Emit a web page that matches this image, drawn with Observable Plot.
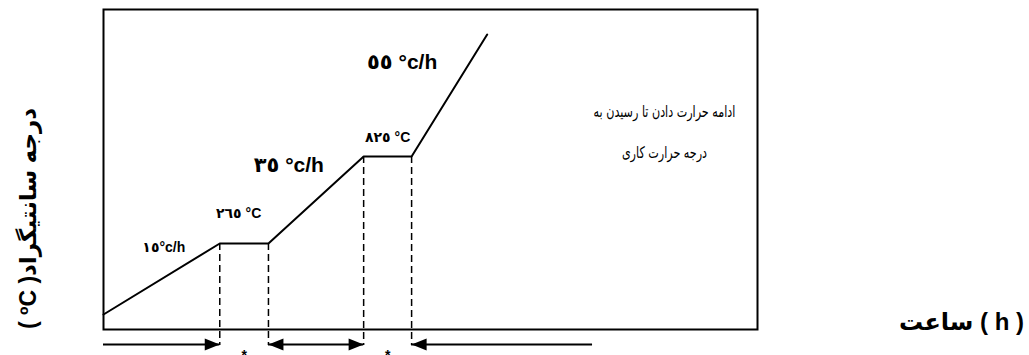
<!DOCTYPE html>
<html><head><meta charset="utf-8">
<script src="https://cdn.jsdelivr.net/npm/d3@7"></script>
<script src="https://cdn.jsdelivr.net/npm/@observablehq/plot@0.6"></script>
<style>html,body{margin:0;padding:0;background:#fff} svg{display:block}</style>
</head><body><div id="chart"></div>
<script>
// Heating schedule (schematic): time in hours, temperature in °C
const times = [0, 16, 22.7, 35.8, 42.4, 52.8];
const temps = [25, 265, 265, 825, 825, 1400];

// hold (soak) segments
const holdStart = [16, 35.8];
const holdEnd = [22.7, 42.4];
const holdTemp = [265, 825];

// rate labels
const rateLabels = ["١٥°c/h", "٣٥ °c/h", "٥٥ °c/h"];
const rateTime = [8.3, 25.5, 41.1];
const rateTemp = [251, 767, 1268];

// hold temperature labels
const holdLabels = ["٢٦٥ °C", "٨٢٥ °C"];
const holdLabelTime = [18.6, 39.1];
const holdLabelTemp = [458, 914];

// note
const noteLines = ["ادامه حرارت دادن تا رسیدن به", "درجه حرارت کاری"];
const noteTime = [77.2, 77.2];
const noteTemp = [1037, 843];

// time-line arrows below the axis
const shaftStart = [0, 22.7, 42.4];
const shaftEnd = [16, 35.8, 67.3];
const headTime = [16, 22.7, 35.8, 42.4];
const headAngle = [0, 180, 0, 180];
const starTime = [19.35, 39.1];

const yTitle = "( ºC )درجه سانتیگراد";
const xTitle = "ساعت ( h )";

// schematic (non-linear) temperature axis of the diagram
const tempBreaks = [0, 25, 265, 825, 1400];
const heightBreaks = [0, 15, 86, 173, 295];
const schematic = d3.scaleLinear().domain(tempBreaks).range(heightBreaks);

const arrowHead = {draw(ctx) { ctx.moveTo(0, 0); ctx.lineTo(-15, -6); ctx.lineTo(-15, 6); ctx.closePath(); }};

const sans = "Liberation Sans, Arial, DejaVu Sans, sans-serif";
const idx = a => d3.range(a.length);
const dashT = [...holdStart, ...holdEnd];
const dashY = [...holdTemp, ...holdTemp];

const chart = Plot.plot({
  width: 1029, height: 355,
  marginLeft: 103, marginRight: 272, marginTop: 9, marginBottom: 26,
  style: {fontFamily: sans, background: "white", color: "black"},
  x: {domain: [0, 90], axis: null},
  y: {transform: schematic, domain: [0, 320], axis: null},
  marks: [
    Plot.frame({stroke: "black", strokeWidth: 2}),
    Plot.ruleX(idx(dashT), {x: i => dashT[i], y1: i => dashY[i], y2: 0, insetBottom: -16, stroke: "black", strokeWidth: 1.5, strokeDasharray: "7,4"}),
    Plot.line(idx(times), {x: i => times[i], y: i => temps[i], stroke: "black", strokeWidth: 2}),
    Plot.ruleY(idx(shaftStart), {x1: i => shaftStart[i], x2: i => shaftEnd[i], y: 0, dy: 15, stroke: "black", strokeWidth: 2}),
    Plot.dot(idx(headTime), {x: i => headTime[i], y: 0, dy: 15, rotate: i => headAngle[i], symbol: arrowHead, fill: "black", stroke: null, r: 5}),
    Plot.text(starTime, {x: d => d, y: 0, text: () => "*", dy: 26, fontSize: 14, fontWeight: "bold"}),
    Plot.text(idx(rateLabels).slice(0, 1), {x: i => rateTime[i], y: i => rateTemp[i], text: i => rateLabels[i], fontSize: 14, fontWeight: "bold"}),
    Plot.text(idx(rateLabels).slice(1), {x: i => rateTime[i], y: i => rateTemp[i], text: i => rateLabels[i], fontSize: 21, fontWeight: "bold"}),
    Plot.text(idx(holdLabels), {x: i => holdLabelTime[i], y: i => holdLabelTemp[i], text: i => holdLabels[i], fontSize: 14, fontWeight: "bold"}),
    Plot.text(idx(noteLines), {x: i => noteTime[i], y: i => noteTemp[i], text: i => noteLines[i], fontSize: 16, fontFamily: "DejaVu Sans, sans-serif"}),
    Plot.text([yTitle], {frameAnchor: "left", textAnchor: "middle", lineAnchor: "middle", rotate: -90, dx: -75, dy: 49, fontSize: 23, fontWeight: "bold"}),
    Plot.text([xTitle], {frameAnchor: "bottom-right", textAnchor: "middle", lineAnchor: "middle", dx: 204, dy: -7, fontSize: 24, fontWeight: "bold"})
  ]
});
document.getElementById("chart").appendChild(chart);
// narrow the note slightly around its centre (reference uses a narrower Naskh face)
try {
  const cx = chart.scale("x").apply(noteTime[0]);
  const noteEls = d3.select(chart).selectAll("text")
    .filter(function() { return noteLines.includes(this.textContent); });
  let widest = 0;
  noteEls.each(function() { widest = Math.max(widest, this.getComputedTextLength()); });
  const s = widest > 0 ? Math.min(1, 142 / widest) : 0.7;
  noteEls.each(function() {
    const prev = this.getAttribute("transform") || "";
    this.setAttribute("transform", `translate(${cx},0) scale(${s},1) translate(${-cx},0) ${prev}`);
  });
} catch (e) { console.log(e); }
</script>
</body></html>
